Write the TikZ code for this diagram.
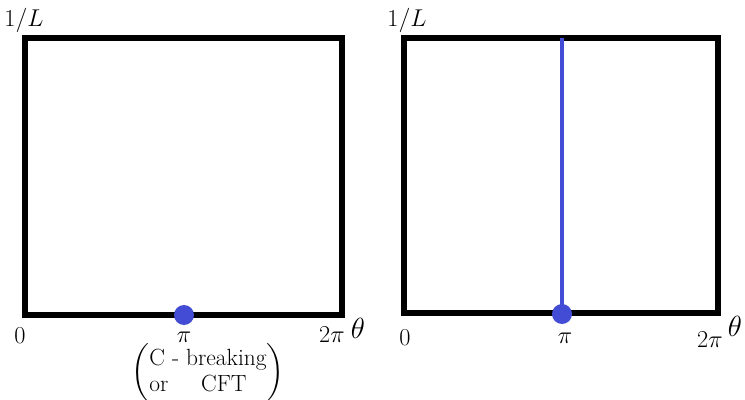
\documentclass[tikz,border=0pt]{standalone}
\usepackage{amsmath}
\usepackage{tikz}
\usetikzlibrary{positioning,calc}
\definecolor{dotblue}{RGB}{66,76,212}

\begin{document}
\begin{tikzpicture}[
    x=0.03cm, y=-0.03cm,
    frame/.style={draw, line width=4.6pt, line join=miter},
    pt/.style={circle, fill=dotblue, inner sep=0pt, minimum size=0.6cm},
    tick/.style={font=\fontsize{22}{24}\selectfont, inner sep=0pt},
    axis/.style={font=\fontsize{34}{36}\selectfont, inner sep=0pt},
    ylab/.style={font=\fontsize{20}{22}\selectfont, inner sep=0pt},
  ]
  \useasboundingbox (0,0) rectangle (745,400);

  % left panel: isolated point at theta = pi
  \coordinate (l0) at (25,315);
  \coordinate (l1) at (342,38);
  \draw[frame] (l0) rectangle (l1);
  \node[pt] (lpi) at (184,315) {};
  \node[ylab] (lyl) at (24,20) {$1/L$};
  \node[tick] (lz) at (20,336) {$0$};
  \node[tick] (lp) at (184,337) {$\pi$};
  \node[tick] (ltp) at (332,335) {$2\pi$};
  \node[axis] (lth) at (358,328) {$\theta$};
  \node[font=\fontsize{20}{22}\selectfont, inner sep=0pt] (lnote) at (208,373)
    {$\left(\begin{array}{@{}l@{\hspace{1.4em}}l@{}}
      \multicolumn{2}{@{}l@{}}{\text{C - breaking}}\\
      \text{or} & \text{CFT}
     \end{array}\right)$};

  % right panel: line of points at theta = pi
  \coordinate (r0) at (404,313);
  \coordinate (r1) at (718,38);
  \draw[frame] (r0) rectangle (r1);
  \node[pt] (rpi) at (562,314) {};
  \coordinate (rtop) at (562,38);
  \draw[dotblue, line width=4pt] (rpi.center) -- (rtop);
  \node[ylab] (ryl) at (407,20) {$1/L$};
  \node[tick] (rz) at (405,338) {$0$};
  \node[tick] (rp) at (565,338) {$\pi$};
  \node[tick] (rtp) at (710,340) {$2\pi$};
  \node[axis] (rth) at (735,326) {$\theta$};
\end{tikzpicture}
\end{document}
